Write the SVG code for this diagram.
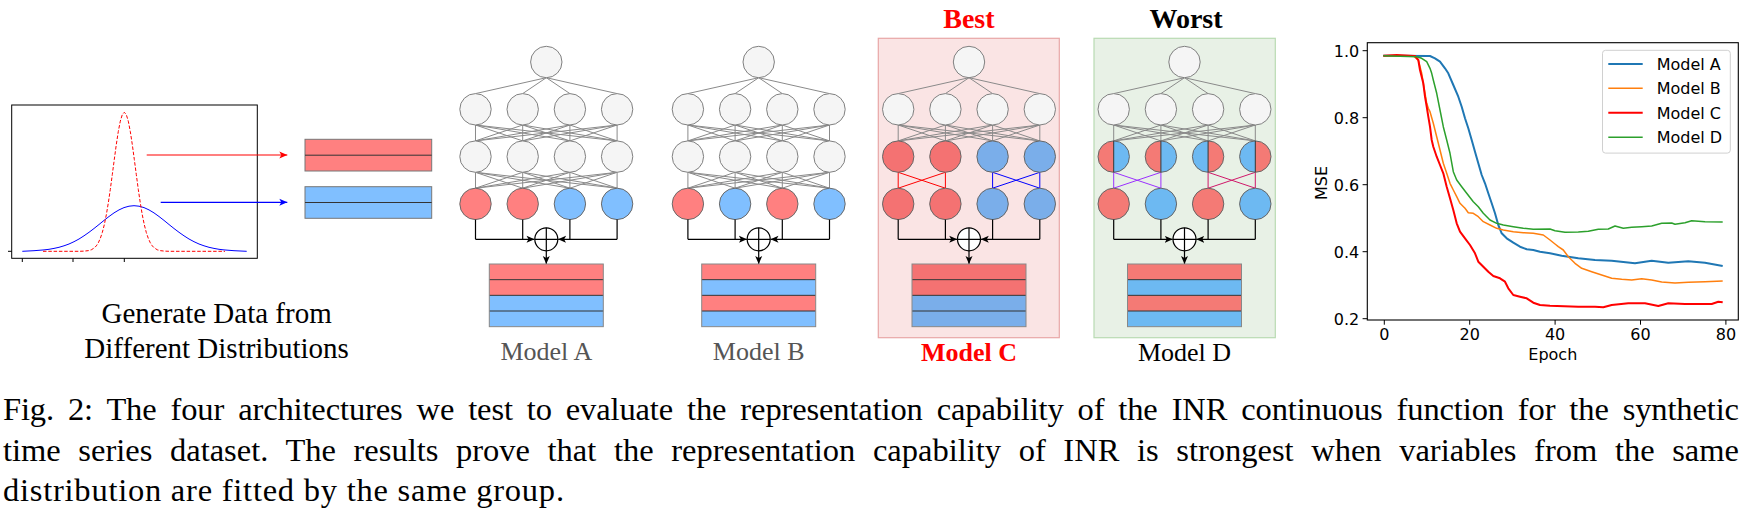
<svg xmlns="http://www.w3.org/2000/svg" xmlns:xlink="http://www.w3.org/1999/xlink" width="1752" height="516" viewBox="0 0 1752 516">
<style>
.g{stroke:#8a8a8a;stroke-width:1;fill:none}
.n{fill:#f5f5f5;stroke:#808080;stroke-width:1}
.ra{fill:#ff8080;stroke:#6a6a6a;stroke-width:1}
.ba{fill:#80bfff;stroke:#6a6a6a;stroke-width:1}
.rc{fill:#f47272;stroke:#666;stroke-width:1}
.bc{fill:#7aaeea;stroke:#666;stroke-width:1}
.rd{fill:#f47a75;stroke:#666;stroke-width:1}
.bd{fill:#6db9f2;stroke:#666;stroke-width:1}
.k{stroke:#000;stroke-width:1.2;fill:none}
.div{stroke:#333;stroke-width:1;fill:none}
.serif{font-family:"Liberation Serif","Times New Roman",serif}
.sans{font-family:"DejaVu Sans",sans-serif;font-size:16px;fill:#000}
.lab{font-size:26px;text-anchor:middle}
</style>
<defs>
<marker id="ak" markerUnits="userSpaceOnUse" markerWidth="9" markerHeight="8" refX="8" refY="4" orient="auto"><path d="M0,0.5 L8,4 L0,7.5 L2,4 z" fill="#000"/></marker>
<marker id="ar" markerUnits="userSpaceOnUse" markerWidth="9" markerHeight="8" refX="8" refY="4" orient="auto"><path d="M0,0.5 L8,4 L0,7.5 L2,4 z" fill="#ff0000"/></marker>
<marker id="ab" markerUnits="userSpaceOnUse" markerWidth="9" markerHeight="8" refX="8" refY="4" orient="auto"><path d="M0,0.5 L8,4 L0,7.5 L2,4 z" fill="#0000ff"/></marker>
<g id="trunk">
<path class="g" d="M0,77.7 L-70.8,93.6 M0,77.7 L-23.6,93.6 M0,77.7 L23.6,93.6 M0,77.7 L70.8,93.6"/>
<path class="g" d="M-70.8,125 L-70.8,140.9 M-70.8,125 L-23.6,140.9 M-70.8,125 L23.6,140.9 M-70.8,125 L70.8,140.9 M-23.6,125 L-70.8,140.9 M-23.6,125 L-23.6,140.9 M-23.6,125 L23.6,140.9 M-23.6,125 L70.8,140.9 M23.6,125 L-70.8,140.9 M23.6,125 L-23.6,140.9 M23.6,125 L23.6,140.9 M23.6,125 L70.8,140.9 M70.8,125 L-70.8,140.9 M70.8,125 L-23.6,140.9 M70.8,125 L23.6,140.9 M70.8,125 L70.8,140.9"/>
<circle class="n" cx="0" cy="62" r="15.7"/>
<circle class="n" cx="-70.8" cy="109.3" r="15.7"/>
<circle class="n" cx="-23.6" cy="109.3" r="15.7"/>
<circle class="n" cx="23.6" cy="109.3" r="15.7"/>
<circle class="n" cx="70.8" cy="109.3" r="15.7"/>
</g>
<g id="fc34">
<path class="g" d="M-70.8,172.3 L-70.8,188.2 M-70.8,172.3 L-23.6,188.2 M-70.8,172.3 L23.6,188.2 M-70.8,172.3 L70.8,188.2 M-23.6,172.3 L-70.8,188.2 M-23.6,172.3 L-23.6,188.2 M-23.6,172.3 L23.6,188.2 M-23.6,172.3 L70.8,188.2 M23.6,172.3 L-70.8,188.2 M23.6,172.3 L-23.6,188.2 M23.6,172.3 L23.6,188.2 M23.6,172.3 L70.8,188.2 M70.8,172.3 L-70.8,188.2 M70.8,172.3 L-23.6,188.2 M70.8,172.3 L23.6,188.2 M70.8,172.3 L70.8,188.2"/>
<circle class="n" cx="-70.8" cy="156.6" r="15.7"/>
<circle class="n" cx="-23.6" cy="156.6" r="15.7"/>
<circle class="n" cx="23.6" cy="156.6" r="15.7"/>
<circle class="n" cx="70.8" cy="156.6" r="15.7"/>
</g>
<g id="sum">
<path class="k" d="M-70.8,219.6 V239.3 M-23.6,219.6 V239.3 M23.6,219.6 V239.3 M70.8,219.6 V239.3"/>
<line class="k" x1="-70.8" y1="239.3" x2="-11.8" y2="239.3" marker-end="url(#ak)"/>
<line class="k" x1="70.8" y1="239.3" x2="11.8" y2="239.3" marker-end="url(#ak)"/>
<circle cx="0" cy="239.3" r="11.5" fill="#fff" stroke="#000" stroke-width="1.2"/>
<path class="k" d="M0,227.8 V250.8 M-11.5,239.3 H11.5"/>
<line class="k" x1="0" y1="250.8" x2="0" y2="264" marker-end="url(#ak)"/>
</g>
<g id="outline">
<path class="div" d="M-57,279.67 H57 M-57,295.33 H57 M-57,311 H57"/>
<rect x="-57" y="264" width="114" height="62.67" fill="none" stroke="#888" stroke-width="1"/>
</g>
</defs>

<g id="data-panel">
<rect x="11.7" y="105" width="245.6" height="153.3" fill="#fff" stroke="#000" stroke-width="1"/>
<path d="M22.3,258.3 V262 M73,258.3 V262 M124.3,258.3 V262 M8,251.3 H11.7" stroke="#000" stroke-width="1"/>
<polyline fill="none" stroke="#0000ff" stroke-width="1" points="22.3,251.3 34,250.7 44,249.9 49,249.3 54,248.4 59,247.3 64,245.8 69,244.0 74,241.7 79,239.0 84,235.8 89,232.3 94,228.5 99,224.5 104,220.4 109,216.5 114,212.9 119,209.9 124,207.6 129,206.2 134,205.7 139,206.2 144,207.6 149,209.9 154,212.9 159,216.5 164,220.4 169,224.5 174,228.5 179,232.3 184,235.8 189,239.0 194,241.7 199,244.0 204,245.8 209,247.3 214,248.4 219,249.3 224,249.9 234,250.7 246.7,251.3"/>
<polyline fill="none" stroke="#ff0000" stroke-width="1" stroke-dasharray="3.5 1.8" points="43,251.3 79.3,251.3 84.3,251.1 88.3,250.65 91.3,249.8 94.3,247.9 96.3,245.9 98.3,242.8 100.3,238.4 102.3,232.5 104.3,224.7 106.3,214.9 108.3,203.0 110.3,189.5 112.3,174.6 114.3,159.4 116.3,144.6 118.3,131.5 120.3,121.2 122.3,114.6 124.3,112.3 126.3,114.6 128.3,121.2 130.3,131.5 132.3,144.6 134.3,159.4 136.3,174.6 138.3,189.5 140.3,203.0 142.3,214.9 144.3,224.7 146.3,232.5 148.3,238.4 150.3,242.8 152.3,245.9 154.3,247.9 157.3,249.8 160.3,250.65 164.3,251.1 169.3,251.3 225,251.3"/>
<rect x="305" y="139.3" width="126.7" height="31.7" fill="#ff8080" stroke="#777" stroke-width="1"/>
<line x1="305" y1="155.2" x2="431.7" y2="155.2" stroke="#333" stroke-width="1"/>
<rect x="305" y="186.7" width="126.7" height="31.6" fill="#80bfff" stroke="#777" stroke-width="1"/>
<line x1="305" y1="202.5" x2="431.7" y2="202.5" stroke="#333" stroke-width="1"/>
<text class="serif" x="216.6" y="323.3" font-size="29" text-anchor="middle">Generate Data from</text>
<text class="serif" x="216.6" y="358.3" font-size="29" text-anchor="middle">Different Distributions</text>
</g>

<g id="connectors">
<line x1="146.7" y1="155" x2="287.3" y2="155" stroke="#ff0000" stroke-width="1.2" marker-end="url(#ar)"/>
<line x1="160.7" y1="202.3" x2="287.3" y2="202.3" stroke="#0000ff" stroke-width="1.2" marker-end="url(#ab)"/>
</g>

<g id="model-a" transform="translate(546.3,0)">
<use href="#trunk"/>
<use href="#fc34"/>
<circle class="ra" cx="-70.8" cy="203.9" r="15.7"/>
<circle class="ra" cx="-23.6" cy="203.9" r="15.7"/>
<circle class="ba" cx="23.6" cy="203.9" r="15.7"/>
<circle class="ba" cx="70.8" cy="203.9" r="15.7"/>
<use href="#sum"/>
<rect x="-57" y="264" width="114" height="15.67" fill="#ff8080"/>
<rect x="-57" y="279.67" width="114" height="15.66" fill="#ff8080"/>
<rect x="-57" y="295.33" width="114" height="15.67" fill="#80bfff"/>
<rect x="-57" y="311" width="114" height="15.67" fill="#80bfff"/>
<use href="#outline"/>
<text class="serif lab" x="0" y="360" fill="#555">Model A</text>
</g>

<g id="model-b" transform="translate(758.7,0)">
<use href="#trunk"/>
<use href="#fc34"/>
<circle class="ra" cx="-70.8" cy="203.9" r="15.7"/>
<circle class="ba" cx="-23.6" cy="203.9" r="15.7"/>
<circle class="ra" cx="23.6" cy="203.9" r="15.7"/>
<circle class="ba" cx="70.8" cy="203.9" r="15.7"/>
<use href="#sum"/>
<rect x="-57" y="264" width="114" height="15.67" fill="#ff8080"/>
<rect x="-57" y="279.67" width="114" height="15.66" fill="#80bfff"/>
<rect x="-57" y="295.33" width="114" height="15.67" fill="#ff8080"/>
<rect x="-57" y="311" width="114" height="15.67" fill="#80bfff"/>
<use href="#outline"/>
<text class="serif lab" x="0" y="360" fill="#555">Model B</text>
</g>

<g id="model-c">
<rect x="878.3" y="38.3" width="181" height="299.4" fill="#fae4e4" stroke="#e8a7a7" stroke-width="1.2"/>
<text class="serif" x="968.9" y="28.3" font-size="28" font-weight="bold" text-anchor="middle" fill="#ff0000">Best</text>
<g transform="translate(969,0)">
<use href="#trunk"/>
<path d="M-70.8,172.3 V188.2 M-23.6,172.3 V188.2 M-70.8,172.3 L-23.6,188.2 M-23.6,172.3 L-70.8,188.2" stroke="#ff0000" stroke-width="1" fill="none"/>
<path d="M70.8,172.3 V188.2 M23.6,172.3 V188.2 M70.8,172.3 L23.6,188.2 M23.6,172.3 L70.8,188.2" stroke="#0000ff" stroke-width="1" fill="none"/>
<circle class="rc" cx="-70.8" cy="156.6" r="15.7"/>
<circle class="rc" cx="-23.6" cy="156.6" r="15.7"/>
<circle class="bc" cx="23.6" cy="156.6" r="15.7"/>
<circle class="bc" cx="70.8" cy="156.6" r="15.7"/>
<circle class="rc" cx="-70.8" cy="203.9" r="15.7"/>
<circle class="rc" cx="-23.6" cy="203.9" r="15.7"/>
<circle class="bc" cx="23.6" cy="203.9" r="15.7"/>
<circle class="bc" cx="70.8" cy="203.9" r="15.7"/>
<use href="#sum"/>
<rect x="-57" y="264" width="114" height="15.67" fill="#f47272"/>
<rect x="-57" y="279.67" width="114" height="15.66" fill="#f47272"/>
<rect x="-57" y="295.33" width="114" height="15.67" fill="#7aaeea"/>
<rect x="-57" y="311" width="114" height="15.67" fill="#7aaeea"/>
<use href="#outline"/>
<text class="serif lab" x="0" y="361" fill="#ff0000" font-weight="bold">Model C</text>
</g>
</g>

<g id="model-d">
<rect x="1094" y="38.3" width="181.3" height="299.4" fill="#e8f1e6" stroke="#b8dbb2" stroke-width="1.2"/>
<text class="serif" x="1186" y="28.3" font-size="28" font-weight="bold" text-anchor="middle" fill="#000">Worst</text>
<g transform="translate(1184.5,0)">
<use href="#trunk"/>
<path d="M-70.8,172.3 V188.2 M-23.6,172.3 V188.2 M-70.8,172.3 L-23.6,188.2 M-23.6,172.3 L-70.8,188.2" stroke="#9b30ff" stroke-width="1" fill="none"/>
<path d="M70.8,172.3 V188.2 M23.6,172.3 V188.2 M70.8,172.3 L23.6,188.2 M23.6,172.3 L70.8,188.2" stroke="#d0186a" stroke-width="1" fill="none"/>
<path d="M-70.8,140.9 A15.7,15.7 0 0 0 -70.8,172.3 Z" fill="#f47a75"/>
<path d="M-70.8,140.9 A15.7,15.7 0 0 1 -70.8,172.3 Z" fill="#6db9f2"/>
<path d="M-23.6,140.9 A15.7,15.7 0 0 0 -23.6,172.3 Z" fill="#f47a75"/>
<path d="M-23.6,140.9 A15.7,15.7 0 0 1 -23.6,172.3 Z" fill="#6db9f2"/>
<path d="M23.6,140.9 A15.7,15.7 0 0 0 23.6,172.3 Z" fill="#6db9f2"/>
<path d="M23.6,140.9 A15.7,15.7 0 0 1 23.6,172.3 Z" fill="#f47a75"/>
<path d="M70.8,140.9 A15.7,15.7 0 0 0 70.8,172.3 Z" fill="#6db9f2"/>
<path d="M70.8,140.9 A15.7,15.7 0 0 1 70.8,172.3 Z" fill="#f47a75"/>
<circle cx="-70.8" cy="156.6" r="15.7" fill="none" stroke="#666"/>
<circle cx="-23.6" cy="156.6" r="15.7" fill="none" stroke="#666"/>
<circle cx="23.6" cy="156.6" r="15.7" fill="none" stroke="#666"/>
<circle cx="70.8" cy="156.6" r="15.7" fill="none" stroke="#666"/>
<path class="div" d="M-70.8,140.9 V172.3 M-23.6,140.9 V172.3 M23.6,140.9 V172.3 M70.8,140.9 V172.3"/>
<circle class="rd" cx="-70.8" cy="203.9" r="15.7"/>
<circle class="bd" cx="-23.6" cy="203.9" r="15.7"/>
<circle class="rd" cx="23.6" cy="203.9" r="15.7"/>
<circle class="bd" cx="70.8" cy="203.9" r="15.7"/>
<use href="#sum"/>
<rect x="-57" y="264" width="114" height="15.67" fill="#f47a75"/>
<rect x="-57" y="279.67" width="114" height="15.66" fill="#6db9f2"/>
<rect x="-57" y="295.33" width="114" height="15.67" fill="#f47a75"/>
<rect x="-57" y="311" width="114" height="15.67" fill="#6db9f2"/>
<use href="#outline"/>
<text class="serif lab" x="0" y="361" fill="#000">Model D</text>
</g>
</g>

<g id="chart">
<polyline fill="none" stroke="#1f77b4" stroke-width="2" stroke-linejoin="round" points="1383.3,55.7 1430,56 1435,58.3 1440,61.7 1445,68.3 1448.3,73.3 1453.3,85 1458.3,96.7 1461.7,106.7 1465,118.3 1468.3,128.3 1471.7,140 1475,151.7 1478.3,163.3 1481.7,175 1485,183.3 1488.3,193.3 1491.7,203.3 1495,213.3 1498.3,225 1501.7,233.3 1506.7,238.3 1513.3,242.7 1520,246.7 1526.7,249.3 1533.3,250 1540,251.7 1550,253.3 1561.7,255.7 1578.3,258.3 1595,260 1611.7,260.7 1635,263.3 1651.7,260.7 1668.3,262.7 1688.3,261.3 1705,262.7 1722.7,266"/>
<polyline fill="none" stroke="#ff7f0e" stroke-width="1.5" stroke-linejoin="round" points="1383.3,55.7 1413.3,56 1418.3,60 1420,66.7 1421.7,73.3 1423.3,83.3 1425,93.3 1426.7,103.3 1428.3,108.3 1430,111.7 1433.3,123.3 1436.7,136.7 1440,150 1443.3,163.3 1446.7,173.3 1450,183.3 1453.3,190 1456.7,196.7 1460,203.3 1465,208.3 1468.3,212.7 1473.3,213.3 1478.3,216.7 1483.3,221.7 1490,225 1496.7,228.3 1503.3,230 1513.3,231.7 1523.3,232.7 1533.3,233.3 1543.3,235 1550,240 1555,244 1558.3,246.7 1563.3,250 1568.3,256.7 1575,263.3 1581.7,268.3 1591.7,271.7 1601.7,275 1611.7,278.3 1621.7,279.3 1631.7,280 1641.7,278.7 1651.7,280 1661.7,282 1675,283 1688.3,282.3 1705,281.7 1722.7,281"/>
<polyline fill="none" stroke="#ff0000" stroke-width="2" stroke-linejoin="round" points="1383.3,55.7 1396.7,55 1415,56 1418.3,60 1420,70 1423.3,83.3 1425,96.7 1426.7,106.7 1428.3,116.7 1430,126.7 1431.7,140 1433.3,146.7 1436.7,156.7 1440,165 1443.3,173.3 1446.7,186.7 1450,198.3 1453.3,210 1456.7,223.3 1460,231.7 1465,238.3 1470,245 1475,253.3 1478.3,261.7 1483.3,266.7 1488.3,271.7 1493.3,276 1500,278.3 1505,281.7 1508.3,288.3 1513.3,295 1520,296.7 1526.7,298.3 1533.3,302.7 1540,305 1550,305.7 1578.3,306.7 1595,306.7 1603.3,307.3 1611.7,305 1628.3,303.3 1645,303.3 1658.3,306 1668.3,303.3 1685,304 1711.7,304 1718.3,301.7 1722.7,302.3"/>
<polyline fill="none" stroke="#2ca02c" stroke-width="1.5" stroke-linejoin="round" points="1383.3,55.7 1416.7,56.7 1421.7,58.3 1426.7,61.7 1430,68.3 1431.7,73.3 1433.3,80 1436.7,93.3 1440,110 1443.3,126.7 1446.7,140 1450,153.3 1453.3,171.7 1456.7,180 1461.7,186.7 1466.7,193.3 1473.3,201.7 1478.3,206.7 1483.3,213.3 1490,220 1496.7,223.3 1503.3,225 1513.3,226.7 1523.3,228.3 1533.3,229.3 1550,229 1555,230.7 1565,232.3 1578.3,232 1588.3,231.3 1598.3,229.3 1608.3,229 1615,226 1623.3,228.3 1631.7,227.3 1641.7,226.7 1651.7,226 1661.7,223.3 1671.7,223 1675,224.3 1685,222.7 1691.7,220.7 1705,221.7 1722.7,222"/>
<rect x="1367.3" y="42.7" width="371" height="277.3" fill="none" stroke="#000" stroke-width="1.1"/>
<path d="M1362.6,50.7 H1367.3 M1362.6,117.7 H1367.3 M1362.6,184.7 H1367.3 M1362.6,251.7 H1367.3 M1362.6,318.7 H1367.3 M1384.3,320 V324.7 M1469.7,320 V324.7 M1555.1,320 V324.7 M1640.5,320 V324.7 M1725.9,320 V324.7" stroke="#000" stroke-width="1"/>
<g class="sans" text-anchor="end">
<text x="1359.3" y="56.5">1.0</text>
<text x="1359.3" y="123.5">0.8</text>
<text x="1359.3" y="190.5">0.6</text>
<text x="1359.3" y="257.5">0.4</text>
<text x="1359.3" y="324.5">0.2</text>
</g>
<g class="sans" text-anchor="middle">
<text x="1384.3" y="340">0</text>
<text x="1469.7" y="340">20</text>
<text x="1555.1" y="340">40</text>
<text x="1640.5" y="340">60</text>
<text x="1725.9" y="340">80</text>
<text x="1552.8" y="360">Epoch</text>
<text transform="translate(1327.3,183) rotate(-90)" x="0" y="0">MSE</text>
</g>
<rect x="1602.5" y="50.3" width="127.8" height="102.8" rx="3" fill="#fff" fill-opacity="0.8" stroke="#d0d0d0" stroke-width="1"/>
<line x1="1608.3" y1="64" x2="1642.7" y2="64" stroke="#1f77b4" stroke-width="2"/>
<line x1="1608.3" y1="88.3" x2="1642.7" y2="88.3" stroke="#ff7f0e" stroke-width="1.5"/>
<line x1="1608.3" y1="112.7" x2="1642.7" y2="112.7" stroke="#ff0000" stroke-width="2"/>
<line x1="1608.3" y1="137.3" x2="1642.7" y2="137.3" stroke="#2ca02c" stroke-width="1.5"/>
<g class="sans">
<text x="1656.7" y="69.8">Model A</text>
<text x="1656.7" y="94.1">Model B</text>
<text x="1656.7" y="118.5">Model C</text>
<text x="1656.7" y="143.1">Model D</text>
</g>
</g>

<g id="caption" class="serif" font-size="32.5" fill="#000">
<text x="3" y="419.5" word-spacing="6" textLength="1736" lengthAdjust="spacing">Fig. 2: The four architectures we test to evaluate the representation capability of the INR continuous function for the synthetic</text>
<text x="3" y="460.8" word-spacing="9.5" textLength="1736" lengthAdjust="spacing">time series dataset. The results prove that the representation capability of INR is strongest when variables from the same</text>
<text x="3" y="501" textLength="561" lengthAdjust="spacing">distribution are fitted by the same group.</text>
</g>
</svg>
